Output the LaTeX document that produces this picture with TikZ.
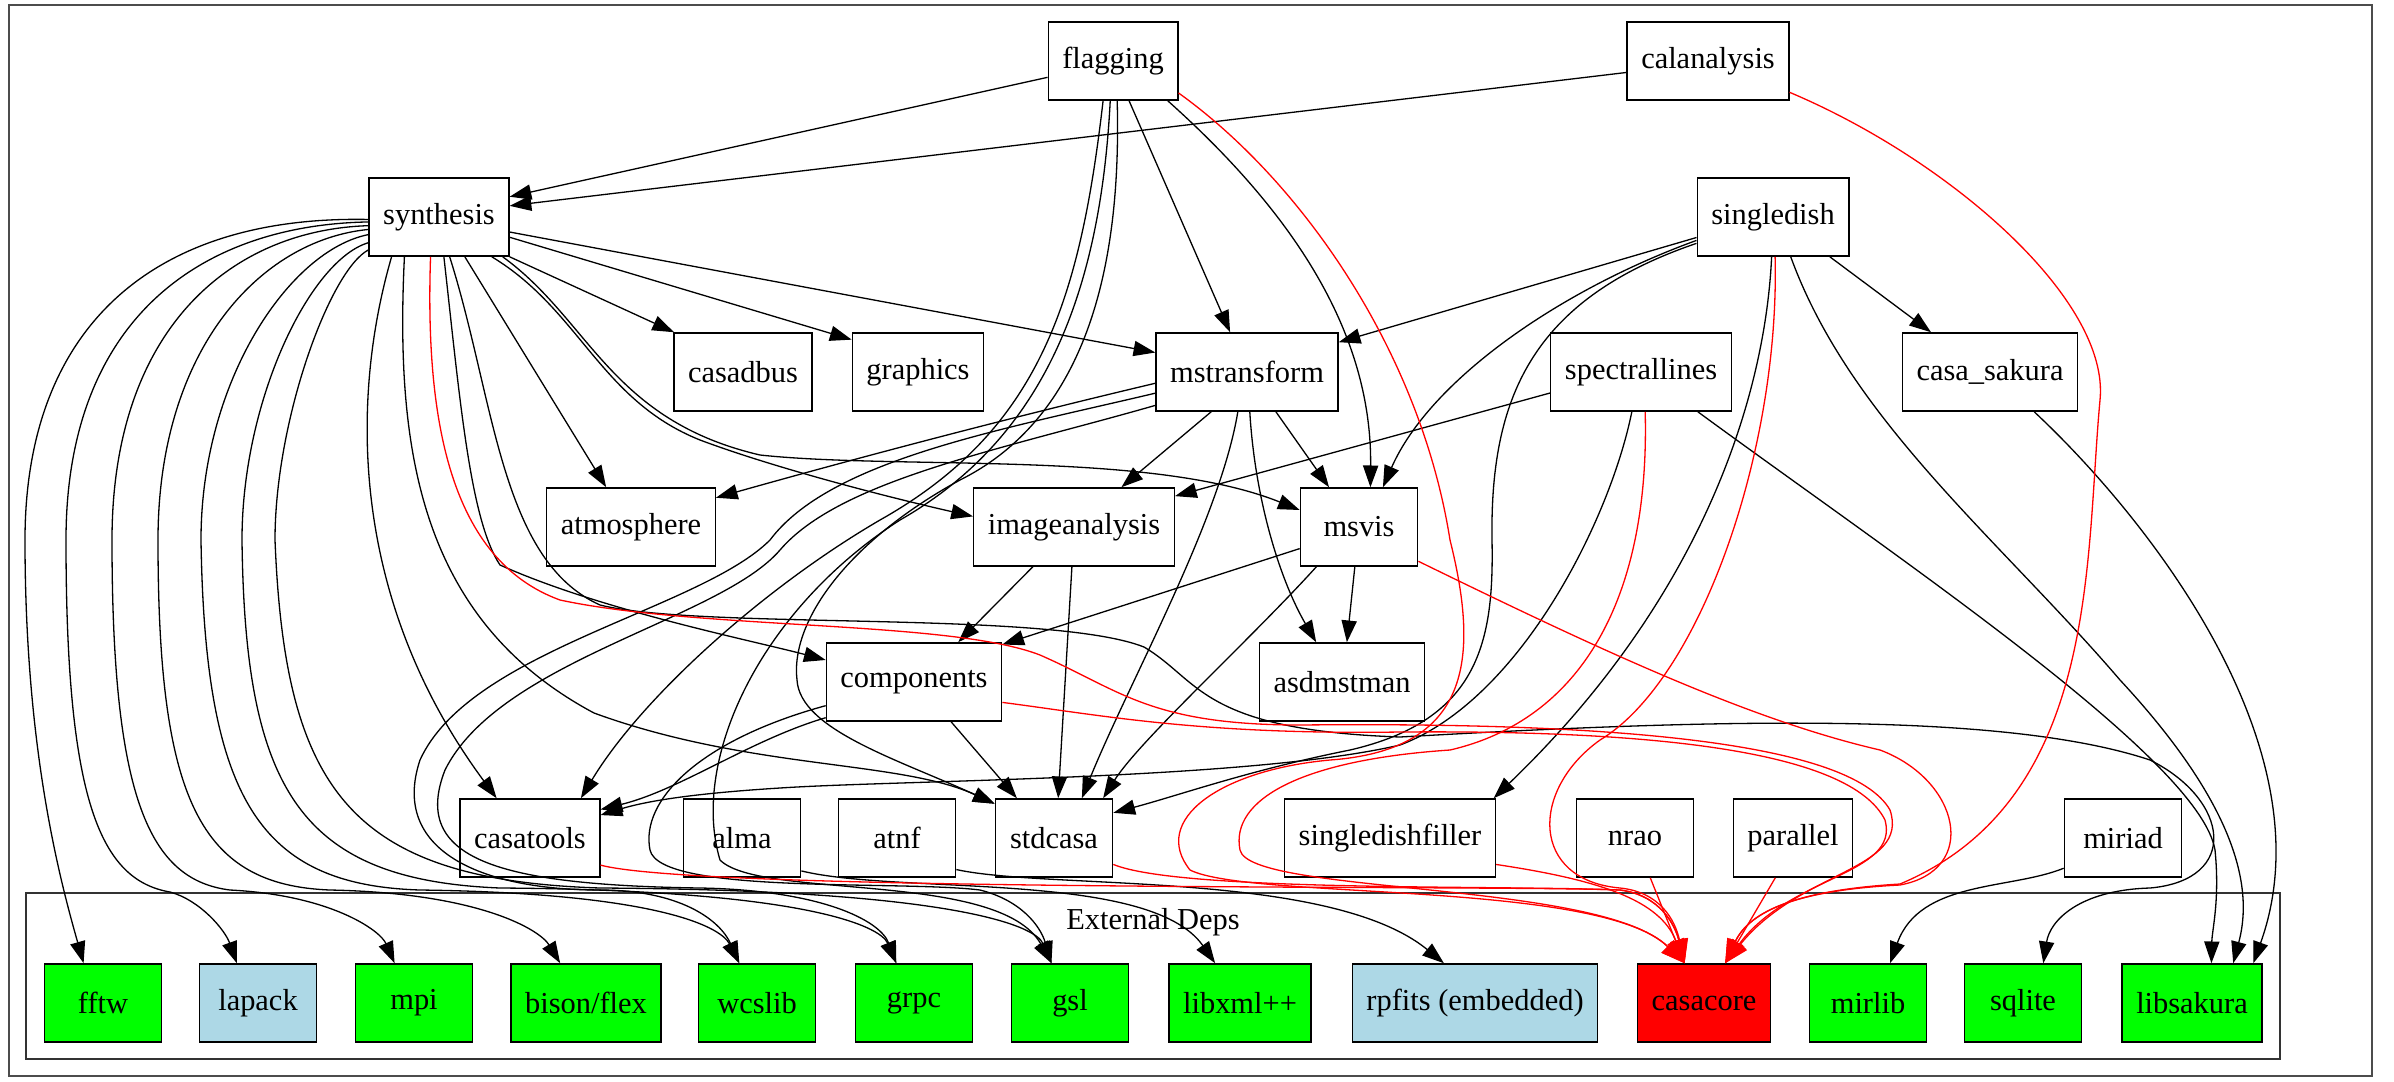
\documentclass[tikz,border=0pt]{standalone}
\usepackage{fontspec}
\setmainfont{Liberation Serif}
\usetikzlibrary{arrows.meta}
\definecolor{extgreen}{HTML}{00FF00}
\definecolor{extblue}{HTML}{ADD8E6}
\definecolor{corered}{HTML}{FF0000}

\begin{document}
\begin{tikzpicture}[x=0.46pt, y=-0.46pt,
  module/.style={rectangle, draw, line width=0.6pt, minimum width=54pt, minimum height=36pt, inner xsep=6.5pt, font=\fontsize{14}{16}\selectfont},
  extdep/.style={module, fill=extgreen},
  optdep/.style={module, fill=extblue},
  link/.style={-{Triangle[length=10pt,width=7pt]}, line width=0.6pt},
  corelink/.style={link, corered, -{Triangle[length=11pt,width=8pt]}}]

\useasboundingbox (0,0) rectangle (2394,1081);
\draw[line width=0.8pt, black!70] (9,5) rectangle (2372,1076);
\draw[line width=0.6pt, black!80] (26,893) rectangle (2280,1059);
\node[font=\fontsize{14}{16}\selectfont] (extlabel) at (1153,922) {External Deps};

\node[module] (flagging) at (1113,61) {flagging};
\node[module] (calanalysis) at (1708,61) {calanalysis};
\node[module] (synthesis) at (439,217) {synthesis};
\node[module] (singledish) at (1773,217) {singledish};
\node[module] (casadbus) at (743,372) {casadbus};
\node[module] (graphics) at (918,372) {graphics};
\node[module] (mstransform) at (1247,372) {mstransform};
\node[module] (spectrallines) at (1641,372) {spectrallines};
\node[module] (casasakura) at (1990,372) {casa\_sakura};
\node[module] (atmosphere) at (631,527) {atmosphere};
\node[module] (imageanalysis) at (1074,527) {imageanalysis};
\node[module] (msvis) at (1359,527) {msvis};
\node[module] (components) at (914,682) {components};
\node[module] (asdmstman) at (1342,682) {asdmstman};
\node[module] (casatools) at (530,838) {casatools};
\node[module] (alma) at (742,838) {alma};
\node[module] (atnf) at (897,838) {atnf};
\node[module] (stdcasa) at (1054,838) {stdcasa};
\node[module] (singledishfiller) at (1390,838) {singledishfiller};
\node[module] (nrao) at (1635,838) {nrao};
\node[module] (parallel) at (1793,838) {parallel};
\node[module] (miriad) at (2123,838) {miriad};

\node[extdep] (fftw) at (103,1003) {fftw};
\node[optdep] (lapack) at (258,1003) {lapack};
\node[extdep] (mpi) at (414,1003) {mpi};
\node[extdep] (bisonflex) at (586,1003) {bison/flex};
\node[extdep] (wcslib) at (757,1003) {wcslib};
\node[extdep] (grpc) at (914,1003) {grpc};
\node[extdep] (gsl) at (1070,1003) {gsl};
\node[extdep] (libxml) at (1240,1003) {libxml++};
\node[optdep] (rpfits) at (1475,1003) {rpfits (embedded)};
\node[module, fill=corered] (casacore) at (1704,1003) {casacore};
\node[extdep] (mirlib) at (1868,1003) {mirlib};
\node[extdep] (sqlite) at (2023,1003) {sqlite};
\node[extdep] (libsakura) at (2192,1003) {libsakura};

\draw[link] (flagging.194) -- (synthesis.16);
\draw[link] (calanalysis.188) -- (synthesis.9);
\draw[link] (flagging.-68) -- (mstransform.113);
\draw[link] (flagging.-36) .. controls (1290,210) and (1372,330) .. (msvis.74);
\draw[link] (flagging.-104) .. controls (1080,300) and (1040,430) .. (880,520) .. controls (760,590) and (640,700) .. (casatools.38);
\draw[link] (flagging.-84) .. controls (1122,280) and (1080,420) .. (960,480) .. controls (850,540) and (790,620) .. (797,680) .. controls (800,730) and (900,760) .. (stdcasa.150);
\draw[link] (flagging.-94) .. controls (1100,300) and (1040,440) .. (900,520) .. controls (760,610) and (690,760) .. (720,860) .. controls (760,900) and (1000,870) .. (gsl.115);

\draw[link] (synthesis.south east) -- (casadbus.150);
\draw[link] (synthesis.-16) -- (graphics.154);
\draw[link] (synthesis.-12) -- (mstransform.168);
\draw[link] (synthesis.-57) -- (atmosphere.122);
\draw[link] (synthesis.-37) .. controls (580,310) and (600,400) .. (700,440) .. controls (780,470) and (900,500) .. (imageanalysis.174);
\draw[link] (synthesis.-32) .. controls (590,320) and (610,420) .. (760,455) .. controls (900,470) and (1150,450) .. (msvis.164);
\draw[link] (synthesis.-83) .. controls (460,400) and (470,520) .. (500,565) .. controls (600,610) and (750,640) .. (components.166);
\draw[link] (synthesis.-140) .. controls (350,400) and (350,600) .. (casatools.130);
\draw[link] (synthesis.-131) .. controls (395,450) and (420,620) .. (594,713) .. controls (750,770) and (900,760) .. (stdcasa.150);
\draw[link] (synthesis.-75) .. controls (495,400) and (500,560) .. (600,605) .. controls (700,630) and (1050,610) .. (1144,647) .. controls (1200,680) and (1200,730) .. (1400,737) .. controls (1700,720) and (2000,710) .. (2150,760) .. controls (2230,800) and (2240,880) .. (2150,888) .. controls (2080,890) and (2050,920) .. (sqlite.63);
\draw[link] (synthesis.182) .. controls (150,215) and (25,330) .. (25,540) .. controls (25,750) and (60,880) .. (fftw.116);
\draw[link] (synthesis.184) .. controls (200,225) and (66,320) .. (66,540) .. controls (66,800) and (100,880) .. (170,892) .. controls (200,900) and (225,930) .. (lapack.118);
\draw[link] (synthesis.187) .. controls (230,230) and (112,330) .. (112,540) .. controls (112,800) and (150,880) .. (230,890) .. controls (330,895) and (380,930) .. (mpi.116);
\draw[link] (synthesis.190) .. controls (260,240) and (158,350) .. (158,540) .. controls (158,800) and (200,885) .. (330,890) .. controls (480,893) and (540,930) .. (bisonflex.123);
\draw[link] (synthesis.194) .. controls (290,250) and (201,380) .. (201,540) .. controls (205,800) and (260,885) .. (420,890) .. controls (650,893) and (720,925) .. (wcslib.114);
\draw[link] (synthesis.200) .. controls (310,260) and (242,400) .. (242,540) .. controls (245,790) and (300,880) .. (500,888) .. controls (800,890) and (880,925) .. (grpc.114);
\draw[link] (synthesis.205) .. controls (330,270) and (275,420) .. (275,540) .. controls (285,790) and (350,880) .. (600,888) .. controls (950,890) and (1035,925) .. (gsl.115);

\draw[link] (mstransform.-132) -- (imageanalysis.40);
\draw[link] (mstransform.-54) -- (msvis.127);
\draw[link] (mstransform.-86) .. controls (1255,500) and (1280,580) .. (asdmstman.123);
\draw[link] (mstransform.-103) .. controls (1220,520) and (1130,680) .. (stdcasa.55);
\draw[link] (mstransform.187) .. controls (1000,420) and (850,460) .. (atmosphere.19);
\draw[link] (mstransform.193) .. controls (1000,430) and (830,460) .. (770,540) .. controls (700,610) and (470,650) .. (420,760) .. controls (390,850) and (480,890) .. (600,890) .. controls (680,890) and (720,920) .. (wcslib.114);
\draw[link] (mstransform.200) .. controls (1000,450) and (840,480) .. (780,550) .. controls (720,620) and (500,660) .. (445,770) .. controls (410,860) and (500,885) .. (700,888) .. controls (820,890) and (880,920) .. (grpc.114);

\draw[link] (imageanalysis.-136) -- (components.42);
\draw[link] (imageanalysis.-93) -- (stdcasa.84);
\draw[link] (msvis.200) -- (components.23);
\draw[link] (msvis.-96) -- (asdmstman.83);
\draw[link] (msvis.-137) .. controls (1250,640) and (1140,740) .. (stdcasa.39);
\draw[link] (components.-47) -- (stdcasa.133);
\draw[link] (components.202) .. controls (750,740) and (680,790) .. (casatools.22);
\draw[link] (components.195) .. controls (700,740) and (640,800) .. (650,850) .. controls (660,895) and (900,880) .. (980,890) .. controls (1020,900) and (1040,925) .. (gsl.115);

\draw[link] (singledish.195) -- (mstransform.18);
\draw[link] (singledish.197) .. controls (1560,290) and (1430,380) .. (msvis.59);
\draw[link] (singledish.199) .. controls (1530,300) and (1490,400) .. (1492,540) .. controls (1494,640) and (1480,720) .. (1350,750) .. controls (1250,770) and (1180,795) .. (stdcasa.23);
\draw[link] (singledish.-92) .. controls (1765,400) and (1700,600) .. (singledishfiller.21);
\draw[link] (singledish.-35) -- (casasakura.146);
\draw[link] (singledish.-66) .. controls (1850,420) and (2000,540) .. (2120,680) .. controls (2250,820) and (2250,900) .. (libsakura.44);
\draw[link] (spectrallines.193) -- (imageanalysis.17);
\draw[link] (spectrallines.-103) .. controls (1610,520) and (1520,700) .. (1400,745) .. controls (1250,780) and (900,780) .. (780,788) .. controls (700,793) and (650,800) .. (casatools.18);
\draw[link] (spectrallines.-35) .. controls (1900,560) and (2200,760) .. (2215,850) .. controls (2220,900) and (2212,930) .. (libsakura.64);
\draw[link] (casasakura.-42) .. controls (2150,520) and (2330,750) .. (libsakura.33);

\draw[link] (alma.-29) .. controls (900,895) and (1150,870) .. (libxml.122);
\draw[link] (atnf.-28) .. controls (1050,890) and (1330,870) .. (rpfits.128);
\draw[link] (miriad.207) .. controls (2010,890) and (1920,880) .. (mirlib.61);

\draw[corelink] (synthesis.-102) .. controls (425,420) and (450,560) .. (560,600) .. controls (700,630) and (950,620) .. (1040,655) .. controls (1120,690) and (1150,725) .. (1300,725) .. controls (1600,722) and (1850,740) .. (1890,810) .. controls (1910,870) and (1800,870) .. (casacore.62);
\draw[corelink] (components.-13) .. controls (1100,715) and (1200,735) .. (1400,732) .. controls (1650,730) and (1850,750) .. (1885,820) .. controls (1900,875) and (1790,875) .. (casacore.62);
\draw[corelink] (msvis.-30) .. controls (1600,650) and (1750,720) .. (1880,750) .. controls (1960,780) and (1980,870) .. (1900,885) .. controls (1800,890) and (1750,910) .. (casacore.62);
\draw[corelink] (calanalysis.-21) .. controls (1950,160) and (2110,300) .. (2100,400) .. controls (2085,560) and (2100,800) .. (1900,884) .. controls (1800,890) and (1750,910) .. (casacore.62);
\draw[corelink] (flagging.-26) .. controls (1300,180) and (1420,350) .. (1450,540) .. controls (1480,660) and (1470,750) .. (1330,760) .. controls (1220,770) and (1150,820) .. (1190,870) .. controls (1250,900) and (1600,880) .. (casacore.116);
\draw[corelink] (singledish.-87) .. controls (1780,450) and (1700,680) .. (1600,740) .. controls (1530,790) and (1530,880) .. (1620,888) .. controls (1660,892) and (1675,920) .. (casacore.116);
\draw[corelink] (spectrallines.-84) .. controls (1650,600) and (1580,720) .. (1450,750) .. controls (1300,760) and (1230,800) .. (1240,850) .. controls (1250,895) and (1600,880) .. (casacore.116);
\draw[corelink] (casatools.-21) .. controls (700,892) and (1500,885) .. (1620,890) .. controls (1660,895) and (1675,925) .. (casacore.116);
\draw[corelink] (stdcasa.-24) .. controls (1180,892) and (1500,885) .. (1620,890) .. controls (1660,895) and (1675,925) .. (casacore.116);
\draw[corelink] (singledishfiller.-14) .. controls (1600,880) and (1660,900) .. (casacore.116);
\draw[corelink] (nrao.-69) -- (casacore.116);
\draw[corelink] (parallel.-114) -- (casacore.62);
\end{tikzpicture}
\end{document}
